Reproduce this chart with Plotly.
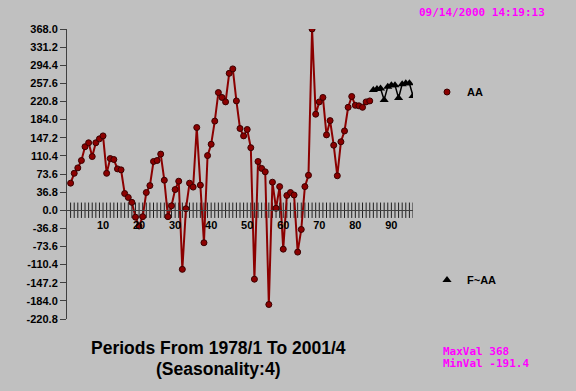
import plotly.graph_objects as go

# ---- data ----
periods = list(range(1, 85))
aa_values = [55, 75, 86, 101, 129, 137, 109, 137, 145, 151,
             75, 105, 103, 84, 82, 34, 26, 16, -14, -32,
             -13, 36, 50, 99, 101, 114, 61, -13, 9, 42,
             59, -120, 3, 55, 47, 168, 51, -66, 111, 134,
             181, 239, 229, 220, 278, 287, 222, 166, 151, 164,
             127, -140, 99, 85, 78, -191.4, 57, 4, 48, -79,
             30, 36, 31, -85, -39, 48, 71, 368, 195, 220,
             229, 153, 182, 132, 70, 139, 161, 209, 231, 213,
             212, 209, 220, 222]
forecast_periods = list(range(85, 97))
forecast_values = [244, 246, 247, 224, 251, 254, 254, 228, 256, 258, 258, 232]
tick_periods = list(range(1, 97))
x_tick_vals = [10, 20, 30, 40, 50, 60, 70, 80, 90]
y_tick_vals = [-220.8, -184.0, -147.2, -110.4, -73.6, -36.8, 0.0, 36.8, 73.6,
               110.4, 147.2, 184.0, 220.8, 257.6, 294.4, 331.2, 368.0]
y_tick_text = ["-220.8", "-184.0", "-147.2", "-110.4", "-73.6", "-36.8", "0.0", "36.8", "73.6",
               "110.4", "147.2", "184.0", "220.8", "257.6", "294.4", "331.2", "368.0"]

W, H = 576, 391
L, R, T, B = 67, 163, 29, 72
PW, PH = W - L - R, H - T - B


def px(xp):
    return (xp - L) / PW


def py(yp):
    return (H - B - yp) / PH


BOLD = dict(family="Liberation Sans, Arial, sans-serif", size=11, color="black", weight="bold")
MONO = dict(family="DejaVu Sans Mono, monospace", size=11, color="#ff00ff", weight="bold")
TITLE = dict(family="Liberation Sans, Arial, sans-serif", size=17.5, color="black", weight="bold")

fig = go.Figure()

# axis tick marks crossing the zero axis
fig.add_trace(go.Scatter(
    x=tick_periods, y=[0] * len(tick_periods), mode="markers",
    marker=dict(symbol="line-ns", size=11, line=dict(width=1, color="#202020")),
    hoverinfo="skip", showlegend=False))

fig.add_trace(go.Scatter(
    x=periods, y=aa_values, mode="lines+markers", name="AA", showlegend=False,
    line=dict(color="#8b0000", width=2),
    marker=dict(symbol="circle", size=6, color="#8b0000", line=dict(width=1, color="#3a0000"))))

fig.add_trace(go.Scatter(
    x=forecast_periods, y=forecast_values, mode="lines+markers", name="F~AA", showlegend=False,
    line=dict(color="black", width=1.5),
    marker=dict(symbol="triangle-up", size=8, color="black")))

# legend entries
fig.add_trace(go.Scatter(
    x=[None], y=[None], mode="markers", name="AA", legend="legend",
    marker=dict(symbol="circle", size=6, color="#8b0000", line=dict(width=1, color="#3a0000"))))
fig.add_trace(go.Scatter(
    x=[None], y=[None], mode="markers", name="F~AA", legend="legend2",
    marker=dict(symbol="triangle-up", size=8, color="black")))

fig.update_layout(
    width=W, height=H,
    margin=dict(l=L, r=R, t=T, b=B, pad=0),
    paper_bgcolor="#c0c0c0", plot_bgcolor="#c0c0c0",
    xaxis=dict(range=[0, 96], domain=[0, 1], anchor="free", position=0.375,
               showgrid=False, zeroline=False, showline=True, linecolor="#404040", linewidth=1,
               tickvals=x_tick_vals, ticks="outside", ticklen=5, tickcolor="rgba(0,0,0,0)",
               tickfont=BOLD),
    yaxis=dict(range=[-220.8, 368.0], domain=[0, 1], showgrid=False, zeroline=False,
               showline=True, linecolor="#404040", linewidth=1,
               tickvals=y_tick_vals, ticktext=y_tick_text, ticks="outside", ticklen=6,
               tickcolor="#404040", tickfont=BOLD),
    legend=dict(x=px(427), y=py(92), xanchor="left", yanchor="middle",
                bgcolor="rgba(0,0,0,0)", font=BOLD, itemwidth=30),
    legend2=dict(x=px(427), y=py(280), xanchor="left", yanchor="middle",
                 bgcolor="rgba(0,0,0,0)", font=BOLD, itemwidth=30),
    showlegend=True,
    annotations=[
        dict(text="09/14/2000 14:19:13", x=px(417), y=py(13), xref="paper", yref="paper",
             xanchor="left", yanchor="middle", showarrow=False, font=MONO),
        dict(text="MaxVal 368", x=px(441), y=py(351), xref="paper", yref="paper",
             xanchor="left", yanchor="middle", showarrow=False, font=MONO),
        dict(text="MinVal -191.4", x=px(441), y=py(363), xref="paper", yref="paper",
             xanchor="left", yanchor="middle", showarrow=False, font=MONO),
        dict(text="Periods From 1978/1 To 2001/4", x=px(218), y=py(348), xref="paper", yref="paper",
             xanchor="center", yanchor="middle", showarrow=False, font=TITLE),
        dict(text="(Seasonality:4)", x=px(218), y=py(369), xref="paper", yref="paper",
             xanchor="center", yanchor="middle", showarrow=False, font=TITLE),
    ],
)

fig.write_html(
    "out.html",
    config={"displayModeBar": False},
    post_script="document.body.style.margin='0px';document.body.style.background='#c0c0c0';",
)
